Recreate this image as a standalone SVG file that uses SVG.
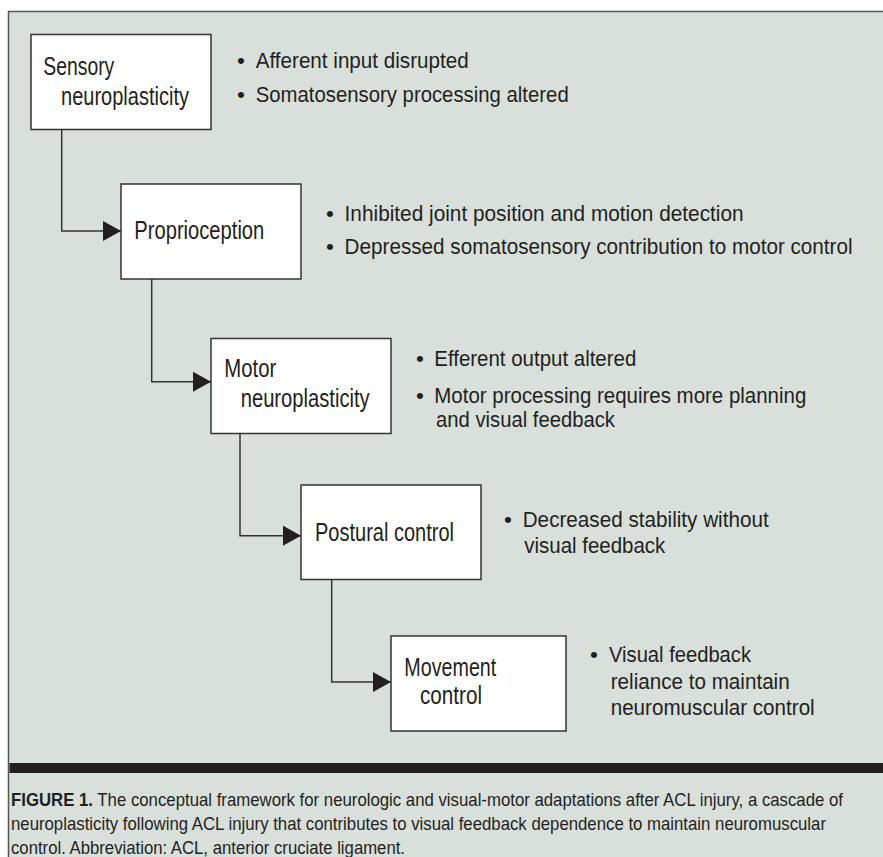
<svg xmlns="http://www.w3.org/2000/svg" width="883" height="857" viewBox="0 0 883 857">
<style>
text{font-family:"Liberation Sans",Arial,sans-serif;fill:#231f20}
.bx{fill:#fff;stroke:#333;stroke-width:1.5}
.bt{font-size:25px}
.bl{font-size:22.5px}
.cap{font-size:18px}
.con{fill:none;stroke:#333;stroke-width:1.5}
</style>
<defs>
<marker id="ah" markerUnits="userSpaceOnUse" markerWidth="19" markerHeight="21" refX="18" refY="10" orient="auto">
<path d="M0,0 L18,10 L0,20 z" fill="#231f20"/>
</marker>
</defs>
<rect x="0" y="0" width="883" height="857" fill="#fff"/>
<rect x="9" y="12" width="874" height="845" fill="#d9e0dc"/>
<path d="M8.5,857 V11.5 H883" fill="none" stroke="#555" stroke-width="1.5"/>

<g id="connectors">
<path class="con" d="M61.7,129 V231 H121" marker-end="url(#ah)"/>
<path class="con" d="M151.7,279 V381.7 H211" marker-end="url(#ah)"/>
<path class="con" d="M240,433 V535.7 H301" marker-end="url(#ah)"/>
<path class="con" d="M331.7,579 V682 H391" marker-end="url(#ah)"/>
</g>

<g id="sensory">
<rect class="bx" x="31" y="34.5" width="180" height="95"/>
<text class="bt" x="43.3" y="75" textLength="71" lengthAdjust="spacingAndGlyphs">Sensory</text>
<text class="bt" x="61" y="105" textLength="128" lengthAdjust="spacingAndGlyphs">neuroplasticity</text>
<text class="bl" x="241" y="68.3" text-anchor="middle">•</text>
<text class="bl" x="255.7" y="68.3" textLength="213" lengthAdjust="spacingAndGlyphs">Afferent input disrupted</text>
<text class="bl" x="241" y="101.7" text-anchor="middle">•</text>
<text class="bl" x="255.7" y="101.7" textLength="313" lengthAdjust="spacingAndGlyphs">Somatosensory processing altered</text>
</g>

<g id="proprioception">
<rect class="bx" x="121" y="184" width="180" height="95"/>
<text class="bt" x="134.3" y="239" textLength="130" lengthAdjust="spacingAndGlyphs">Proprioception</text>
<text class="bl" x="330" y="221" text-anchor="middle">•</text>
<text class="bl" x="344.6" y="221" textLength="399" lengthAdjust="spacingAndGlyphs">Inhibited joint position and motion detection</text>
<text class="bl" x="330" y="254" text-anchor="middle">•</text>
<text class="bl" transform="scale(0.8,1)" x="430.75" y="254" textLength="635" lengthAdjust="spacingAndGlyphs">Depressed somatosensory contribution to motor control</text>
</g>

<g id="motor">
<rect class="bx" x="211" y="338.5" width="180" height="95"/>
<text class="bt" x="224.3" y="376.7" textLength="52" lengthAdjust="spacingAndGlyphs">Motor</text>
<text class="bt" x="240.7" y="406.7" textLength="129" lengthAdjust="spacingAndGlyphs">neuroplasticity</text>
<text class="bl" x="420" y="366" text-anchor="middle">•</text>
<text class="bl" x="434.3" y="366" textLength="202" lengthAdjust="spacingAndGlyphs">Efferent output altered</text>
<text class="bl" x="420" y="402.7" text-anchor="middle">•</text>
<text class="bl" x="434.3" y="402.7" textLength="372" lengthAdjust="spacingAndGlyphs">Motor processing requires more planning</text>
<text class="bl" x="436" y="426.7" textLength="179" lengthAdjust="spacingAndGlyphs">and visual feedback</text>
</g>

<g id="postural">
<rect class="bx" x="301" y="485" width="180" height="94.5"/>
<text class="bt" x="315" y="540.7" textLength="139" lengthAdjust="spacingAndGlyphs">Postural control</text>
<text class="bl" x="508" y="527.3" text-anchor="middle">•</text>
<text class="bl" x="522.7" y="527.3" textLength="246" lengthAdjust="spacingAndGlyphs">Decreased stability without</text>
<text class="bl" x="524.3" y="553.3" textLength="141" lengthAdjust="spacingAndGlyphs">visual feedback</text>
</g>

<g id="movement">
<rect class="bx" x="391" y="636" width="175" height="95"/>
<text class="bt" x="404.3" y="675.7" textLength="92" lengthAdjust="spacingAndGlyphs">Movement</text>
<text class="bt" x="420" y="704.3" textLength="62" lengthAdjust="spacingAndGlyphs">control</text>
<text class="bl" x="594" y="662.3" text-anchor="middle">•</text>
<text class="bl" x="609" y="662.3" textLength="142" lengthAdjust="spacingAndGlyphs">Visual feedback</text>
<text class="bl" x="610.7" y="689.3" textLength="179" lengthAdjust="spacingAndGlyphs">reliance to maintain</text>
<text class="bl" x="610.7" y="715" textLength="204" lengthAdjust="spacingAndGlyphs">neuromuscular control</text>
</g>

<g id="caption">
<rect x="9.5" y="763" width="873.5" height="10" fill="#231f20"/>
<text class="cap" transform="scale(0.8,1)" x="13.75" y="806" textLength="1040" lengthAdjust="spacingAndGlyphs"><tspan font-weight="bold">FIGURE 1.</tspan> The conceptual framework for neurologic and visual-motor adaptations after ACL injury, a cascade of</text>
<text class="cap" transform="scale(0.8,1)" x="13.75" y="830" textLength="1018.75" lengthAdjust="spacingAndGlyphs">neuroplasticity following ACL injury that contributes to visual feedback dependence to maintain neuromuscular</text>
<text class="cap" x="11" y="854" textLength="394" lengthAdjust="spacingAndGlyphs">control. Abbreviation: ACL, anterior cruciate ligament.</text>
</g>
</svg>
